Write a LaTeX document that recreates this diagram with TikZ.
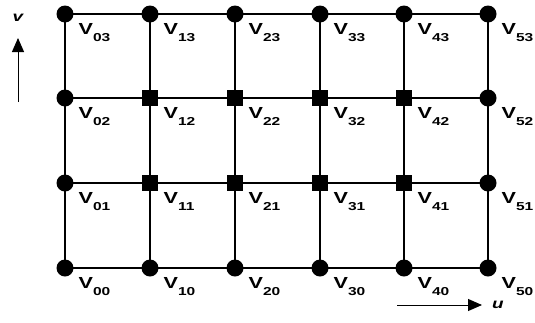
\documentclass[tikz,border=0pt]{standalone}
\usepackage{fontspec}
\newfontfamily\lblfont[FakeStretch=1.35]{Liberation Sans}
\usetikzlibrary{arrows.meta}
\begin{document}
\begin{tikzpicture}[x=1pt,y=-1pt,line width=1.4pt,
 tip/.style={-{Triangle[length=14pt,width=12pt]},line width=1pt},
 pt/.style={circle,fill=black,inner sep=0pt,minimum size=17pt},
 sq/.style={rectangle,fill=black,inner sep=0pt,minimum size=16pt},
 lbl/.style={font=\lblfont\bfseries\fontsize{16}{16}\selectfont,inner sep=0pt,anchor=base west},
 ax/.style={font=\lblfont\bfseries\itshape\fontsize{14}{14}\selectfont,inner sep=0pt}]
\useasboundingbox (0,0) rectangle (535,322);
% boundary points
\foreach \i/\px in {0/65,5/488}
 \foreach \j/\py in {0/268,1/183,2/98,3/14}
  \node[pt] (v\i\j) at (\px,\py) {};
\foreach \i/\px in {1/150,2/235,3/320,4/404}
 \foreach \j/\py in {0/268,3/14}
  \node[pt] (v\i\j) at (\px,\py) {};
% interior points
\foreach \i/\px in {1/150,2/235,3/320,4/404}
 \foreach \j/\py in {1/183,2/98}
  \node[sq] (v\i\j) at (\px,\py) {};
% grid lines
\foreach \j in {0,1,2,3}
 \foreach \i/\k in {0/1,1/2,2/3,3/4,4/5}
  \draw[black] (v\i\j.center) -- (v\k\j.center);
\foreach \i in {0,1,2,3,4,5}
 \foreach \j/\k in {0/1,1/2,2/3}
  \draw[black] (v\i\j.center) -- (v\i\k.center);
% labels
\foreach \i in {0,...,5}
 \foreach \j in {0,...,3}
  \node[lbl,xshift=13pt,yshift=-20pt] (l\i\j) at (v\i\j) {V\raisebox{-7pt}{\fontsize{11.5}{11.5}\selectfont\i\j}};
% axes
\coordinate (u0) at (397,305);
\coordinate (u1) at (482,305);
\draw[tip] (u0) -- (u1);
\node[ax] (ulbl) at (498,305) {u};
\coordinate (w0) at (18,102);
\coordinate (w1) at (18,38);
\draw[tip] (w0) -- (w1);
\node[ax] (vlbl) at (18,18) {v};
\end{tikzpicture}
\end{document}
